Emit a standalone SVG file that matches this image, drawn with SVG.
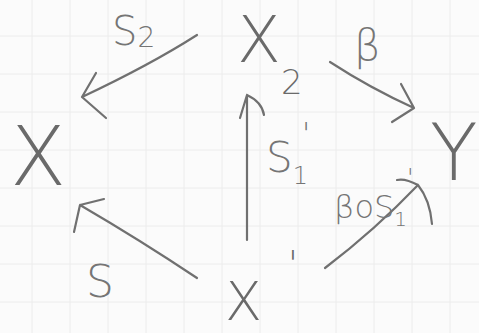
<svg xmlns="http://www.w3.org/2000/svg" width="479" height="333" viewBox="0 0 479 333">
<style>
.ln{fill:none;stroke:#707070;stroke-width:2.2;stroke-linecap:round;stroke-linejoin:round}
.grid{stroke:#ececec;stroke-width:1}
.n{font-family:"DejaVu Sans","Liberation Sans",sans-serif;font-weight:200;fill:#6a6a6a}
.lb{font-family:"DejaVu Sans","Liberation Sans",sans-serif;font-weight:200;fill:#757575}
</style>
<rect width="479" height="333" fill="#fbfbfb"/>
<g id="grid">
<path class="grid" d="M32 0V333M70 0V333M108 0V333M146 0V333M184 0V333M222 0V333M260 0V333M298 0V333M336 0V333M374 0V333M412 0V333M450 0V333M0 36H479M0 74H479M0 112H479M0 150H479M0 188H479M0 226H479M0 264H479M0 302H479"/>
</g>
<g id="node-X"><text class="n" x="10" y="185" font-size="82">X</text></g>
<g id="node-X2"><text class="n" x="237" y="62" font-size="64">X</text><text class="n" x="281" y="94" font-size="34">2</text></g>
<g id="node-Y"><text class="n" x="430" y="180" font-size="78">Y</text></g>
<g id="node-X1"><text class="n" x="225" y="320" font-size="54">X</text><text class="n" x="288" y="276" font-size="36">'</text></g>
<g id="connectors">
<path class="ln" d="M197 35 Q150 65 82 97 M82 97 L96 73 M82 97 L106 118"/>
<path class="ln" d="M330 62 Q370 88 414 108 M414 108 L401 84 M414 108 L392 122"/>
<path class="ln" d="M247 240 L247 95 M247 95 L240 118 M247 95 Q262 102 264 115"/>
<path class="ln" d="M325 268 Q375 230 418 185 M418 185 Q405 178 397 180 M418 185 Q430 200 432 224"/>
<path class="ln" d="M197 278 Q140 240 80 205 M80 205 L104 199 M80 205 L74 232"/>
<text class="lb" x="112" y="45" font-size="40">S<tspan font-size="28" dy="2">2</tspan></text>
<text class="lb" x="354" y="60" font-size="42">β</text>
<text class="lb" x="266" y="172" font-size="42">S<tspan font-size="24" dy="12">1</tspan><tspan font-size="30" dx="-6" dy="-40">'</tspan></text>
<text class="lb" x="334" y="218" font-size="32">βoS<tspan font-size="20" dy="8">1</tspan><tspan font-size="24" dy="-40">'</tspan></text>
<text class="lb" x="86" y="297" font-size="44">S</text>
</g>
</svg>
